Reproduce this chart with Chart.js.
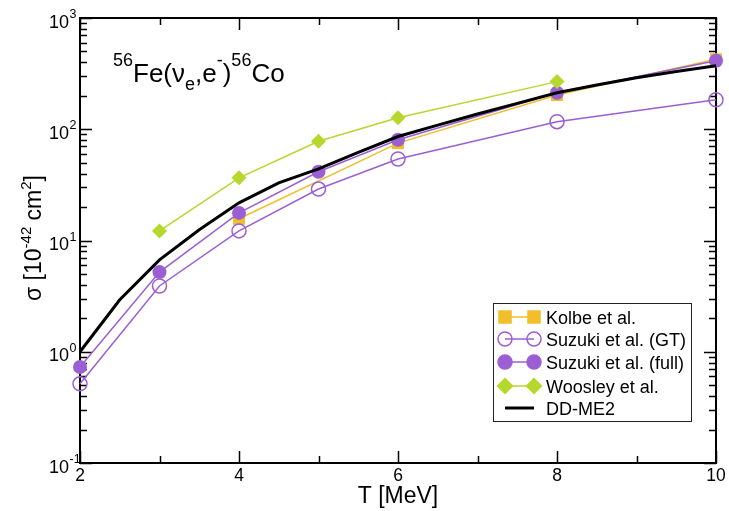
<!DOCTYPE html>
<html>
<head>
<meta charset="utf-8">
<script src="https://cdn.jsdelivr.net/npm/chart.js@4.4.1/dist/chart.umd.min.js"></script>
<style>
  html, body { margin: 0; padding: 0; background: #fff; }
</style>
</head>
<body>
<canvas id="chart" width="729" height="511"></canvas>
<script>
// values (cross sections in 10^-42 cm^2)
const energyKolbe = [4, 6, 8, 10];
const kolbe = [15.7, 75, 203, 425];
const energySuzuki = [2, 3, 4, 5, 6, 8, 10];
const suzukiGT = [0.515, 3.9, 12.2, 29, 54, 117, 184];
const suzukiFull = [0.73, 5.2, 17.7, 41.5, 80.5, 213, 413];
const energyWoosley = [3, 4, 5, 6, 8];
const woosley = [12.2, 36.6, 78, 127, 268];
const energyDD = [2, 2.5, 3, 3.5, 4, 4.5, 5, 5.5, 6, 6.5, 7, 7.5, 8, 8.5, 9, 9.5, 10];
const ddme2 = [1.0, 2.93, 6.7, 12.5, 21.8, 33, 44, 62, 86, 109, 137, 171, 213, 250, 290, 330, 372];

const xMajor = [2, 4, 6, 8, 10];
const xMinor = [3, 5, 7, 9];
const yExponents = [-1, 0, 1, 2, 3];

const FONT = '"Liberation Sans", Arial, Helvetica, sans-serif';
const ORANGE = '#F2BE2C';
const PURPLE = '#9B5FD3';
const GREEN = '#B6D82C';

function pts(xs, ys) {
  return xs.map((x, i) => ({ x: x, y: ys[i] }));
}

function drawMarker(ctx, style, x, y, r, fill, stroke, lw) {
  ctx.beginPath();
  if (style === 'rect') {
    const h = r * Math.SQRT1_2;
    ctx.rect(x - h, y - h, 2 * h, 2 * h);
  } else if (style === 'rectRot') {
    ctx.moveTo(x - r, y);
    ctx.lineTo(x, y - r);
    ctx.lineTo(x + r, y);
    ctx.lineTo(x, y + r);
    ctx.closePath();
  } else {
    ctx.arc(x, y, r, 0, Math.PI * 2);
  }
  if (fill && fill !== 'transparent') { ctx.fillStyle = fill; ctx.fill(); }
  ctx.lineWidth = lw;
  ctx.strokeStyle = stroke;
  ctx.stroke();
}

// draws a run of text pieces with their own size and vertical shift
function drawRich(ctx, x, y, parts) {
  let cx = x;
  parts.forEach(p => {
    ctx.font = p.size + 'px ' + FONT;
    ctx.fillText(p.t, cx, y + (p.dy || 0));
    cx += ctx.measureText(p.t).width;
  });
  return cx;
}

function richWidth(ctx, parts) {
  let w = 0;
  parts.forEach(p => {
    ctx.font = p.size + 'px ' + FONT;
    w += ctx.measureText(p.t).width;
  });
  return w;
}

const framePlugin = {
  id: 'frame',
  beforeDatasetsDraw(chart) {
    const { ctx, chartArea: a, scales } = chart;
    const xs = scales.x, ys = scales.y;
    ctx.save();
    ctx.strokeStyle = '#000';
    ctx.lineWidth = 1.5;
    ctx.beginPath();
    const tickX = (v, len) => {
      const px = Math.round(xs.getPixelForValue(v)) + 0.5;
      ctx.moveTo(px, a.bottom); ctx.lineTo(px, a.bottom - len);
      ctx.moveTo(px, a.top); ctx.lineTo(px, a.top + len);
    };
    const tickY = (v, len) => {
      const py = Math.round(ys.getPixelForValue(v)) + 0.5;
      ctx.moveTo(a.left, py); ctx.lineTo(a.left + len, py);
      ctx.moveTo(a.right, py); ctx.lineTo(a.right - len, py);
    };
    xMajor.forEach(v => tickX(v, 12));
    xMinor.forEach(v => tickX(v, 7));
    yExponents.forEach((e, i) => {
      tickY(Math.pow(10, e), 12);
      if (i < yExponents.length - 1) {
        for (let m = 2; m <= 9; m++) tickY(m * Math.pow(10, e), 7);
      }
    });
    ctx.stroke();
    ctx.lineWidth = 2;
    ctx.strokeRect(a.left, a.top, a.right - a.left, a.bottom - a.top);

    // tick labels
    ctx.fillStyle = '#000';
    ctx.textBaseline = 'alphabetic';
    ctx.textAlign = 'center';
    ctx.font = '17.5px ' + FONT;
    xMajor.forEach(v => {
      ctx.fillText(String(v), xs.getPixelForValue(v), a.bottom + 18);
    });
    ctx.textAlign = 'left';
    yExponents.forEach(e => {
      const py = ys.getPixelForValue(Math.pow(10, e));
      ctx.font = '18px ' + FONT;
      const w = ctx.measureText('10').width;
      ctx.fillText('10', 69 - w, py + 9.5);
      ctx.font = '12.5px ' + FONT;
      ctx.fillText(e < 0 ? '-' + Math.abs(e) : String(e), 69.5, py);
    });

    // axis titles
    ctx.font = '23px ' + FONT;
    ctx.textAlign = 'center';
    ctx.fillText('T [MeV]', (a.left + a.right) / 2, 503);

    const yTitle = [
      { t: 'σ [10', size: 23 },
      { t: '-42', size: 15, dy: -10 },
      { t: ' cm', size: 23 },
      { t: '2', size: 15, dy: -10 },
      { t: ']', size: 23 }
    ];
    ctx.save();
    ctx.translate(41, 238);
    ctx.rotate(-Math.PI / 2);
    ctx.textAlign = 'left';
    drawRich(ctx, -richWidth(ctx, yTitle) / 2, 0, yTitle);
    ctx.restore();
    ctx.restore();
  },
  afterDraw(chart) {
    const { ctx } = chart;
    ctx.save();
    ctx.fillStyle = '#000';
    ctx.textAlign = 'left';
    ctx.textBaseline = 'alphabetic';
    // reaction label inside the plot
    drawRich(ctx, 113, 82, [
      { t: '56', size: 18, dy: -16 },
      { t: 'Fe(ν', size: 26 },
      { t: 'e', size: 18, dy: 8 },
      { t: ',e', size: 26 },
      { t: '-', size: 18, dy: -16 },
      { t: ')', size: 26 },
      { t: '56', size: 18, dy: -16 },
      { t: 'Co', size: 26 }
    ]);

    // legend box
    const bx = 493, by = 303, bw = 198, bh = 118;
    ctx.fillStyle = '#fff';
    ctx.fillRect(bx, by, bw, bh);
    ctx.lineWidth = 1;
    ctx.strokeStyle = '#222';
    ctx.strokeRect(bx + 0.5, by + 0.5, bw, bh);
    const rows = [317, 339, 362, 386, 408];
    chart.data.datasets.forEach((ds, i) => {
      const y = rows[i];
      ctx.beginPath();
      ctx.moveTo(505, y);
      ctx.lineTo(534, y);
      ctx.lineWidth = ds.borderWidth;
      ctx.strokeStyle = ds.borderColor;
      ctx.stroke();
      if (ds.pointRadius > 0) {
        [505, 534].forEach(px => drawMarker(ctx, ds.pointStyle, px, y, ds.pointRadius,
          ds.pointBackgroundColor, ds.pointBorderColor, ds.pointBorderWidth));
      }
      ctx.fillStyle = '#000';
      ctx.font = '18px ' + FONT;
      ctx.fillText(ds.label, 546, y + 6.5);
    });
    ctx.restore();
  }
};

new Chart(document.getElementById('chart'), {
  type: 'scatter',
  data: {
    datasets: [
      {
        label: 'Kolbe et al.',
        data: pts(energyKolbe, kolbe),
        showLine: true,
        borderColor: ORANGE,
        borderWidth: 1.5,
        pointStyle: 'rect',
        pointRadius: 8.5,
        pointBackgroundColor: ORANGE,
        pointBorderColor: ORANGE,
        pointBorderWidth: 0,
        order: 4,
        clip: false
      },
      {
        label: 'Suzuki et al. (GT)',
        data: pts(energySuzuki, suzukiGT),
        showLine: true,
        borderColor: PURPLE,
        borderWidth: 1.5,
        pointStyle: 'circle',
        pointRadius: 7,
        pointBackgroundColor: 'transparent',
        pointBorderColor: PURPLE,
        pointBorderWidth: 1.5,
        order: 3,
        clip: false
      },
      {
        label: 'Suzuki et al. (full)',
        data: pts(energySuzuki, suzukiFull),
        showLine: true,
        borderColor: PURPLE,
        borderWidth: 1.5,
        pointStyle: 'circle',
        pointRadius: 7,
        pointBackgroundColor: PURPLE,
        pointBorderColor: PURPLE,
        pointBorderWidth: 0,
        order: 2,
        clip: false
      },
      {
        label: 'Woosley et al.',
        data: pts(energyWoosley, woosley),
        showLine: true,
        borderColor: GREEN,
        borderWidth: 1.5,
        pointStyle: 'rectRot',
        pointRadius: 7.5,
        pointBackgroundColor: GREEN,
        pointBorderColor: GREEN,
        pointBorderWidth: 0,
        order: 1,
        clip: false
      },
      {
        label: 'DD-ME2',
        data: pts(energyDD, ddme2),
        showLine: true,
        borderColor: '#000',
        borderWidth: 3,
        pointRadius: 0,
        order: 0,
        clip: false
      }
    ]
  },
  options: {
    responsive: false,
    animation: false,
    layout: { padding: { top: 18, right: 13, left: 0, bottom: 0 } },
    plugins: {
      legend: { display: false },
      tooltip: { enabled: false }
    },
    elements: { line: { tension: 0 } },
    scales: {
      x: {
        type: 'linear',
        min: 2,
        max: 10,
        grid: { display: false },
        border: { display: false },
        ticks: { display: false },
        afterFit: s => { s.height = 48; }
      },
      y: {
        type: 'logarithmic',
        min: 0.1,
        max: 1000,
        grid: { display: false },
        border: { display: false },
        ticks: { display: false },
        afterFit: s => { s.width = 80; }
      }
    }
  },
  plugins: [framePlugin]
});
</script>
</body>
</html>
